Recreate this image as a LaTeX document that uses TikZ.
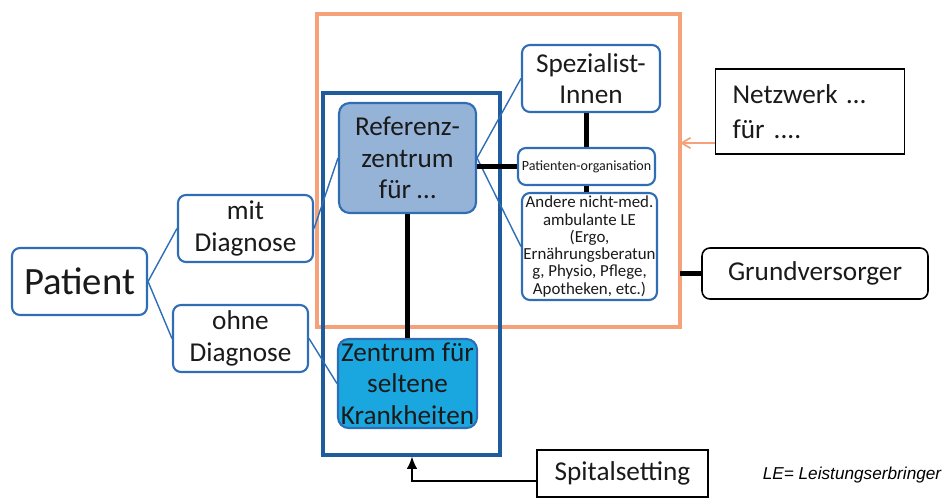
\documentclass[tikz,border=0pt]{standalone}
\usepackage{fontspec}
\setmainfont{Carlito}
\newfontfamily\arialfont{Liberation Sans}
\usetikzlibrary{arrows.meta}

\definecolor{boxblue}{HTML}{2F6EB5}
\definecolor{frameblue}{HTML}{1F5C9E}
\definecolor{reffill}{HTML}{95B3D7}
\definecolor{zfill}{HTML}{1AA7E0}
\definecolor{netorange}{HTML}{F5A27B}
\definecolor{textdark}{HTML}{1A1A1A}

\begin{document}
\begin{tikzpicture}[x=0.02cm,y=-0.02cm,
    every node/.style={text=textdark},
    bluebox/.style={draw=boxblue,line width=1.2pt,rounded corners=4.5pt,fill=white,
      align=center,inner sep=1pt,font=\fontsize{15.5}{18}\selectfont},
    blackbox/.style={draw=black,line width=0.9pt,fill=white,align=center,inner sep=1pt,
      font=\fontsize{15.5}{18}\selectfont},
    thinlink/.style={draw=boxblue,line width=0.8pt},
    thicklink/.style={draw=black,line width=3.4pt}]
  \useasboundingbox (0,0) rectangle (950,497);

  % frames
  \draw [netorange,line width=2.8pt] (317,14) rectangle (680,327);
  \draw [frameblue,line width=2.8pt] (323,93) rectangle (500,455);

  % boxes
  \node [bluebox,minimum width=2.7cm,minimum height=1.34cm,font=\fontsize{22}{26}\selectfont] (patient) at (79.5,281.5) {Patient};
  \node [bluebox,minimum width=2.7cm,minimum height=1.34cm] (mit) at (245.5,228.5) {mit\\Diagnose};
  \node [bluebox,minimum width=2.7cm,minimum height=1.34cm] (ohne) at (240.5,338.5) {ohne\\Diagnose};
  \node [bluebox,fill=reffill,rounded corners=6pt,minimum width=2.74cm,minimum height=2.2cm] (referenz) at (407.5,158) {Referenz-\\zentrum\\für \dots};
  \node [bluebox,fill=zfill,rounded corners=6pt,minimum width=2.78cm,minimum height=1.78cm] (zentrum) at (407.5,383.5) {Zentrum für\\seltene\\Krankheiten};
  \node [bluebox,minimum width=2.76cm,minimum height=1.34cm] (spezialist) at (591,78.5) {Spezialist-\\Innen};
  \node [bluebox,minimum width=2.74cm,minimum height=0.74cm,font=\fontsize{8}{9}\selectfont] (patorg) at (586.5,166.5) {Patienten-organisation};
  \node [bluebox,minimum width=2.7cm,minimum height=2.14cm,inner xsep=0.5pt,font=\fontsize{9.6}{9.8}\selectfont] (andere) at (589.5,246.5) {Andere nicht-med.\\ambulante LE\\(Ergo,\\Ernährungsberatun\\g, Physio, Pflege,\\Apotheken, etc.)};
  \node [blackbox,align=left,text width=3.1cm,inner xsep=0.34cm,minimum height=1.7cm,font=\fontsize{15.5}{20}\selectfont] (netzwerk) at (810,111.5) {Netzwerk \dots\\für ....};
  \node [blackbox,rounded corners=4.5pt,minimum width=4.52cm,minimum height=1.02cm] (grund) at (815,273.5) {Grundversorger};
  \node [blackbox,minimum width=3.42cm,minimum height=0.94cm] (spital) at (622.5,473.5) {Spitalsetting};
  \node [font=\arialfont\itshape\fontsize{9.8}{11}\selectfont,text=black] (legende) at (852,475) {LE= Leistungserbringer};

  % connectors
  \draw [thinlink] (patient.east) -- (mit.west);
  \draw [thinlink] (patient.east) -- (ohne.west);
  \draw [thinlink] (mit.east) -- (referenz.west);
  \draw [thinlink] (ohne.east) -- (zentrum.west);
  \draw [thinlink] (referenz.east) -- (spezialist.west);
  \draw [thinlink] (referenz.east) -- (andere.west);
  \draw [thicklink] (referenz.south) -- (zentrum.north);
  \draw [thicklink] (patorg.west) -- (patorg.west -| referenz.east);
  \draw [thicklink,line width=3pt] (patorg.north) -- (patorg.north |- spezialist.south);
  \draw [thicklink,line width=3pt] (patorg.south) -- (patorg.south |- andere.north);

  \coordinate (netin) at (680,143);
  \draw [netorange,line width=1pt,-{Straight Barb[length=5pt,width=6pt]}] (netzwerk.west |- netin) -- (netin);
  \coordinate (grundin) at (680,273.5);
  \draw [thicklink,line width=3pt] (grund.west) -- (grundin);
  \coordinate (spitalbend) at (412,481);
  \coordinate (spitalin) at (412,456.5);
  \draw [black,line width=1pt,-{Latex[length=7pt,width=6pt]}] (spital.west |- spitalbend) -- (spitalbend) -- (spitalin);
\end{tikzpicture}
\end{document}
